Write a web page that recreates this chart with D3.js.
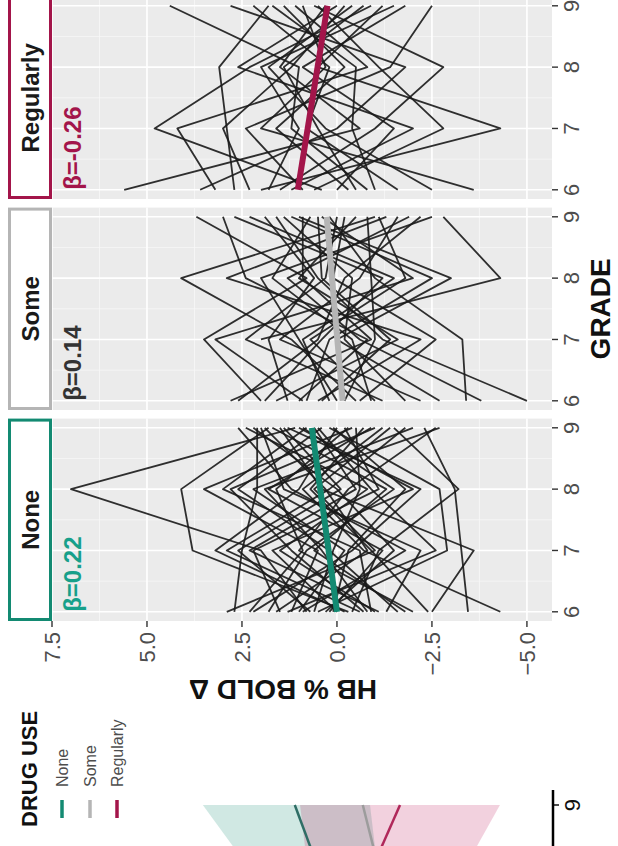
<!DOCTYPE html>
<html>
<head>
<meta charset="utf-8">
<script src="https://cdn.jsdelivr.net/npm/d3@7"></script>
<style>
  html, body { margin: 0; padding: 0; background: #fff; }
  svg { display: block; font-family: "Liberation Sans", Arial, sans-serif; }
</style>
</head>
<body>
<div id="chart"></div>
<script>
// ---- data ---------------------------------------------------------------
const groups = ["None", "Some", "Regularly"];
const groupColors = ["#138a72", "#b5b5b5", "#a3154a"];
const betaTextColors = ["#17a08a", "#333333", "#a3154a"];
const betas = [0.22, 0.14, -0.26];
const fitAtGrade6 = [0.0, -0.15, 1.03];
const grades = [6, 7, 8, 9];
const valueTicks = [7.5, 5.0, 2.5, 0.0, -2.5, -5.0];
const valueMinorTicks = [6.25, 3.75, 1.25, -1.25, -3.75];
const gradeMinorTicks = [6.5, 7.5, 8.5];

// HB % BOLD change per subject at grades 6, 7, 8, 9 (null = not scanned)
const noneSubjects = [
  [0.8, 2.0, 7.0, 1.1], [-0.3, 3.8, 4.1, 1.8], [1.2, 0.5, 3.5, -0.4], [2.7, 2.5, 2.1, 2.1],
  [-3.45, null, -3.1, -2.3], [-4.3, -0.7, 0.9, -1.2], [-2.5, -3.6, 0.4, 1.5], [0.5, -2.9, -2.7, 0.2],
  [-1.0, 1.5, -0.8, 2.4], [0.2, -1.2, 1.8, -0.9], [1.8, 0.8, -1.5, 0.9], [-0.6, 2.9, 0.2, -1.8],
  [2.2, -0.4, -2.2, 1.3], [-1.6, 0.2, 2.6, 0.4], [0.9, -1.8, 1.2, 2.6], [-2.0, 1.0, -0.3, -2.6],
  [1.5, 2.2, -1.1, -0.2], [-0.9, -0.6, 3.0, 0.8], [0.0, 1.7, -2.0, 1.0], [2.9, -1.0, 0.6, -1.4],
  [-1.3, -2.2, 1.4, 2.0], [0.6, 0.1, -0.6, -0.5], [-0.2, 3.2, 1.0, 0.0], [1.0, -0.2, 2.2, -2.0],
  [-1.8, 0.6, -1.3, 1.7], [0.3, -1.5, 0.0, 2.2], [-0.7, 1.2, 2.8, -1.0], [1.3, -2.6, -0.9, 0.5],
  [-2.4, -0.9, 0.7, -0.7], [0.7, 2.6, -0.1, 1.4], [-0.4, -1.1, -3.2, -1.5], [2.3, 0.9, 1.6, -0.3],
  [-1.1, 2.3, -0.5, 0.6], [1.6, -0.8, 0.3, 1.9], [-0.8, 0.4, 1.9, -2.7], [0.1, -0.3, -1.8, 0.1]
];
const someSubjects = [
  [-0.5, 1.2, 4.1, -1.0], [2.0, 3.5, 0.8, 3.7], [1.0, -0.8, 2.4, 3.0], [null, 2.0, -4.3, -2.8],
  [-5.0, -1.2, 0.5, 1.6], [-3.4, -3.3, -1.0, 0.2], [0.8, 0.2, -2.5, 1.2], [-2.2, 1.5, -0.6, -1.6],
  [1.6, -1.6, 1.0, -0.5], [0.2, 0.9, -1.5, 2.3], [-0.9, -0.4, 1.7, 0.7], [2.6, 0.5, -0.2, -2.2],
  [-1.2, 2.4, 0.3, 0.0], [0.5, -2.2, 2.9, -1.3], [-2.7, 0.0, -3.0, 1.0], [1.3, 1.8, 0.6, 1.9],
  [-0.2, -1.0, -0.9, -0.8], [0.9, 3.2, -2.0, 0.4], [-3.8, -0.6, 1.3, -1.9], [1.9, 0.4, -1.2, 2.7],
  [-0.6, -2.6, 0.1, -0.2], [0.0, 1.0, 2.0, -2.5], [-1.8, -0.2, -0.4, 1.4], [2.8, -0.9, 0.9, 0.9],
  [-1.0, 0.7, -1.8, -1.1], [0.4, -1.4, 0.4, 0.5]
];
const regularSubjects = [
  [5.6, -0.6, 1.5, 0.3], [0.4, 4.8, 2.3, -0.9], [3.2, 4.2, -0.8, 1.1], [2.7, null, 3.1, 1.8],
  [-0.8, 1.2, 1.0, 4.4], [1.5, -1.0, -2.8, 0.6], [2.0, -4.3, 0.5, -1.2], [-2.5, 0.3, 1.8, -0.4],
  [0.9, 2.4, -1.4, -2.5], [-1.6, 0.8, 0.2, 2.2], [1.2, -2.0, 2.6, 0.0], [-0.3, 1.6, -0.2, 1.4],
  [3.6, 0.0, -1.8, 2.8], [0.0, -1.5, 0.9, -1.8], [-3.6, 2.0, 0.3, 0.9], [2.3, 3.0, 1.2, -0.2],
  [-1.0, -0.4, -0.5, 1.7], [1.8, 1.0, 2.0, -1.5], [0.6, -2.8, -1.1, 0.5], [-0.5, 0.5, 1.4, -0.7]
];
const subjectsByGroup = [noneSubjects, someSubjects, regularSubjects];

// model predictions (final stretch of the adjacent trajectory panel)
const predGrades = [8, 9];
const predNoneFit = [0.13, 1.11];
const predNoneLower = [-1.18, -0.87];
const predNoneUpper = [1.61, 3.53];
const predSomeFit = [-1.34, -0.68];
const predRegularFit = [-0.5, -1.66];
const predRegularLower = [-2.82, -4.29];
const predRegularUpper = [0.66, 0.97];
const predTicks = [9];

// ---- layout (drawn landscape, then turned a quarter) ---------------------
const W = 846, H = 618;
const panelTop = 52, panelBottom = 552;
const firstLeft = 225, panelW = 202.4, panelGap = 8.6;

const svg = d3.select("#chart").append("svg")
  .attr("width", H).attr("height", W);
const root = svg.append("g").attr("transform", `translate(0,${W}) rotate(-90)`);

const y = d3.scaleLinear().domain([-5.66, 7.5]).range([panelBottom, panelTop]);
const textGray = "#4d4d4d";

groups.forEach((name, gi) => {
  const left = firstLeft + gi * (panelW + panelGap);
  const x = d3.scaleLinear().domain([5.85, 9.15]).range([left, left + panelW]);
  const p = root.append("g");

  // panel background and grid
  p.append("rect").attr("x", left).attr("y", panelTop)
    .attr("width", panelW).attr("height", panelBottom - panelTop).attr("fill", "#ebebeb");
  p.selectAll(".vminor").data(valueMinorTicks).join("line")
    .attr("x1", left).attr("x2", left + panelW)
    .attr("y1", d => y(d)).attr("y2", d => y(d))
    .attr("stroke", "#f7f7f7").attr("stroke-width", 0.8);
  p.selectAll(".gminor").data(gradeMinorTicks).join("line")
    .attr("x1", d => x(d)).attr("x2", d => x(d))
    .attr("y1", panelTop).attr("y2", panelBottom)
    .attr("stroke", "#f7f7f7").attr("stroke-width", 0.8);
  p.selectAll(".vmajor").data(valueTicks).join("line")
    .attr("x1", left).attr("x2", left + panelW)
    .attr("y1", d => y(d)).attr("y2", d => y(d))
    .attr("stroke", "#ffffff").attr("stroke-width", 1.6);
  p.selectAll(".gmajor").data(grades).join("line")
    .attr("x1", d => x(d)).attr("x2", d => x(d))
    .attr("y1", panelTop).attr("y2", panelBottom)
    .attr("stroke", "#ffffff").attr("stroke-width", 1.6);

  // individual trajectories
  const line = d3.line().x(d => x(d[0])).y(d => y(d[1]));
  p.append("g").selectAll("path").data(subjectsByGroup[gi]).join("path")
    .attr("d", s => line(grades.map((g, i) => [g, s[i]]).filter(d => d[1] !== null)))
    .attr("fill", "none").attr("stroke", "#1a1a1a").attr("stroke-width", 1.8)
    .attr("stroke-opacity", 0.9).attr("stroke-linejoin", "round");

  // group fit
  const fit = grades.map(g => [g, fitAtGrade6[gi] + betas[gi] * (g - 6)]);
  p.append("path").attr("d", d3.line().x(d => x(d[0])).y(d => y(d[1]))([fit[0], fit[fit.length - 1]]))
    .attr("stroke", groupColors[gi]).attr("stroke-width", 6).attr("stroke-linecap", "butt")
    .attr("fill", "none");

  // slope label
  p.append("text").attr("x", x(6)).attr("y", 81)
    .attr("fill", betaTextColors[gi]).attr("font-size", 24).attr("font-weight", "bold")
    .text("β=" + betas[gi].toFixed(2));

  // facet strip
  p.append("rect").attr("x", left + 1.5).attr("y", 9.5)
    .attr("width", panelW - 3).attr("height", 41)
    .attr("fill", "#ffffff").attr("stroke", groupColors[gi]).attr("stroke-width", 3);
  p.append("text").attr("x", left + panelW / 2).attr("y", 39)
    .attr("text-anchor", "middle").attr("font-size", 24).attr("font-weight", "bold")
    .attr("fill", "#1a1a1a").text(name);

  // grade axis
  p.selectAll(".gtick").data(grades).join("line")
    .attr("x1", d => x(d)).attr("x2", d => x(d))
    .attr("y1", panelBottom).attr("y2", panelBottom + 6)
    .attr("stroke", "#333").attr("stroke-width", 1.4);
  p.selectAll(".glab").data(grades).join("text")
    .attr("x", d => x(d)).attr("y", 579).attr("text-anchor", "middle")
    .attr("font-size", 22).attr("fill", textGray).text(d => d);
});

// value axis
const ya = root.append("g");
ya.selectAll("line").data(valueTicks).join("line")
  .attr("x1", firstLeft - 6).attr("x2", firstLeft)
  .attr("y1", d => y(d)).attr("y2", d => y(d))
  .attr("stroke", "#333").attr("stroke-width", 1.4);
ya.selectAll("text").data(valueTicks).join("text")
  .attr("x", firstLeft - 11).attr("y", d => y(d) + 8)
  .attr("text-anchor", "end").attr("font-size", 22).attr("fill", textGray)
  .text(d => d3.format(".1f")(d));

// axis titles
const panelsRight = firstLeft + 3 * panelW + 2 * panelGap;
root.append("text").attr("x", (firstLeft + panelsRight) / 2).attr("y", 610)
  .attr("text-anchor", "middle").attr("font-size", 28).attr("font-weight", "bold")
  .attr("fill", "#111").text("GRADE");
root.append("text").attr("transform", "translate(166,283) rotate(-90)")
  .attr("text-anchor", "middle").attr("font-size", 28).attr("font-weight", "bold")
  .attr("fill", "#111").text("HB % BOLD Δ");

// legend
const lg = root.append("g");
lg.append("text").attr("x", 19).attr("y", 37).attr("font-size", 22)
  .attr("font-weight", "bold").attr("fill", "#111").text("DRUG USE");
const legendY = [62, 90, 117];
groups.forEach((name, gi) => {
  lg.append("line").attr("x1", 28).attr("x2", 46)
    .attr("y1", legendY[gi]).attr("y2", legendY[gi])
    .attr("stroke", groupColors[gi]).attr("stroke-width", 3.5);
  lg.append("text").attr("x", 59).attr("y", legendY[gi] + 6)
    .attr("font-size", 16).attr("fill", textGray).text(name);
});

// trajectory prediction panel (right end only)
const xp = d3.scaleLinear().domain([8, 9]).range([-59, 41]);
const pp = root.append("g");
const band = (lo, hi) => d3.area().x((d, i) => xp(predGrades[i]))
  .y0((d, i) => y(lo[i])).y1((d, i) => y(hi[i]))(predGrades);
pp.append("path").attr("d", band(predNoneLower, predNoneUpper))
  .attr("fill", "#138a72").attr("fill-opacity", 0.2);
pp.append("path").attr("d", band(predRegularLower, predRegularUpper))
  .attr("fill", "#c0185a").attr("fill-opacity", 0.2);
const predLine = vals => d3.line().x((d, i) => xp(predGrades[i])).y((d, i) => y(vals[i]))(predGrades);
[[predNoneFit, "#2f6e66"], [predSomeFit, "#9c9c9c"], [predRegularFit, "#b0285a"]].forEach(([v, c]) => {
  pp.append("path").attr("d", predLine(v)).attr("fill", "none")
    .attr("stroke", c).attr("stroke-width", 2.5);
});
pp.append("line").attr("x1", 0).attr("x2", 56).attr("y1", 553).attr("y2", 553)
  .attr("stroke", "#000").attr("stroke-width", 2.5);
pp.selectAll(".ptick").data(predTicks).join("line")
  .attr("x1", d => xp(d)).attr("x2", d => xp(d)).attr("y1", 553).attr("y2", 559)
  .attr("stroke", "#000").attr("stroke-width", 1.4);
pp.selectAll(".plab").data(predTicks).join("text")
  .attr("x", d => xp(d)).attr("y", 580).attr("text-anchor", "middle")
  .attr("font-size", 22).attr("fill", "#111").text(d => d);
</script>
</body>
</html>
